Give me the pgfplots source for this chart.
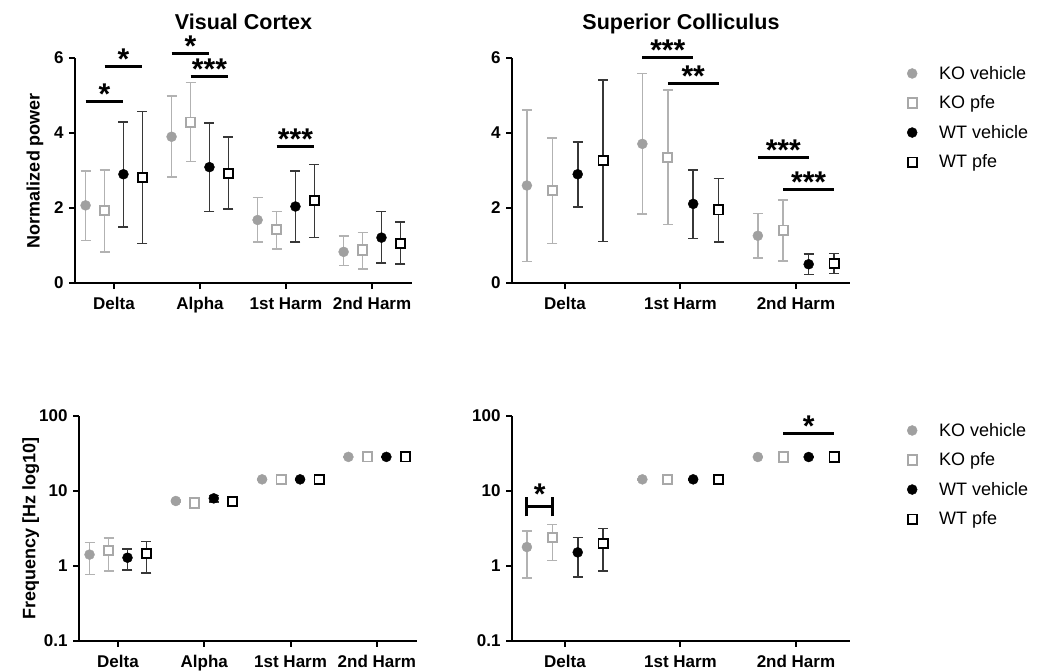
\documentclass[border=0pt]{standalone}
\usepackage{fontspec}
\setmainfont{Liberation Sans}
\usepackage{pgfplots}
\pgfplotsset{compat=1.18}
\usepackage{pgfplotstable}

\definecolor{kofill}{RGB}{160,160,160}
\definecolor{koline}{RGB}{168,168,168}
\definecolor{koerr}{RGB}{178,178,178}
\definecolor{wterr}{RGB}{55,55,55}

% ---------- Visual cortex, normalized power ----------
\pgfplotstableread{
x y ep em
-0.33 2.07 0.92 0.94
0.67 3.90 1.09 1.08
1.67 1.68 0.60 0.59
2.67 0.83 0.42 0.36
}\vcpkov
\pgfplotstableread{
x y ep em
-0.11 1.93 1.09 1.11
0.89 4.29 1.06 1.05
1.89 1.42 0.49 0.51
2.89 0.88 0.47 0.51
}\vcpkop
\pgfplotstableread{
x y ep em
0.11 2.90 1.40 1.40
1.11 3.09 1.18 1.18
2.11 2.04 0.95 0.95
3.11 1.21 0.70 0.68
}\vcpwtv
\pgfplotstableread{
x y ep em
0.33 2.81 1.76 1.76
1.33 2.92 0.97 0.95
2.33 2.20 0.96 0.99
3.33 1.05 0.57 0.55
}\vcpwtp
% ---------- Superior colliculus, normalized power ----------
\pgfplotstableread{
x y ep em
-0.33 2.60 2.02 2.03
0.67 3.71 1.88 1.87
1.67 1.26 0.59 0.60
}\scpkov
\pgfplotstableread{
x y ep em
-0.11 2.46 1.41 1.41
0.89 3.35 1.79 1.79
1.89 1.41 0.81 0.82
}\scpkop
\pgfplotstableread{
x y ep em
0.11 2.90 0.86 0.87
1.11 2.11 0.91 0.92
2.11 0.50 0.27 0.27
}\scpwtv
\pgfplotstableread{
x y ep em
0.33 3.26 2.16 2.15
1.33 1.95 0.84 0.85
2.33 0.52 0.27 0.27
}\scpwtp
% ---------- Visual cortex, frequency ----------
\pgfplotstableread{
x y ep em
-0.33 1.42 0.65 0.65
0.67 7.36 0.20 0.20
1.67 14.3 0.20 0.20
2.67 28.5 0.30 0.30
}\vcfkov
\pgfplotstableread{
x y ep em
-0.11 1.62 0.74 0.76
0.89 6.92 0.50 0.50
1.89 14.3 0.70 0.70
2.89 28.5 1.40 1.40
}\vcfkop
\pgfplotstableread{
x y ep em
0.11 1.29 0.40 0.40
1.11 7.98 0.77 0.78
2.11 14.3 0.30 0.30
3.11 28.5 0.30 0.30
}\vcfwtv
\pgfplotstableread{
x y ep em
0.33 1.47 0.64 0.66
1.33 7.20 0.85 0.96
2.33 14.3 0.70 0.70
3.33 28.5 1.40 1.40
}\vcfwtp
% ---------- Superior colliculus, frequency ----------
\pgfplotstableread{
x y ep em
-0.33 1.79 1.14 1.10
0.67 14.3 0.20 0.20
1.67 28.4 0.20 0.20
}\scfkov
\pgfplotstableread{
x y ep em
-0.11 2.39 1.20 1.21
0.89 14.3 0.70 0.70
1.89 28.4 1.40 1.40
}\scfkop
\pgfplotstableread{
x y ep em
0.11 1.52 0.87 0.81
1.11 14.3 0.30 0.30
2.11 28.4 0.30 0.30
}\scfwtv
\pgfplotstableread{
x y ep em
0.33 2.01 1.14 1.15
1.33 14.3 0.70 0.70
2.33 28.4 1.40 1.40
}\scfwtp

\tikzset{sig/.style={line width=3pt},
  startxt/.style={anchor=base,inner sep=0pt,yshift=-3pt,font=\fontsize{30}{30}\selectfont\bfseries}}

\pgfplotsset{
  panel/.style={
    scale only axis,
    axis lines=left,
    axis line style={line width=2.2pt,-},
    tick style={line width=2pt,black},
    major tick length=6pt,
    tick align=outside,
    clip=false,
    xtick={0,1,2,3},
    ticklabel style={font=\fontsize{17}{20}\selectfont\bfseries},
    xticklabel style={yshift=-5pt},
    yticklabel style={xshift=-2pt},
    ylabel style={font=\fontsize{18}{21}\selectfont\bfseries},
    title style={font=\fontsize{21.5}{25}\selectfont\bfseries, at={(axis description cs:0.5,1)}, anchor=base, yshift=22pt},
    legend style={draw=none, fill=none, font=\fontsize{18}{21}\selectfont, cells={anchor=west}, row sep=11pt, inner sep=0pt},
  },
  legimg/.style={legend image code/.code={\path[draw=none,fill=none] (0pt,-3pt) rectangle (33pt,3pt);\draw[##1] plot coordinates {(8pt,0pt)};}},
  kov/.style={only marks, legimg, mark=*, mark size=5pt, color=kofill,
    error bars/.cd, y dir=both, y explicit,
    error bar style={koerr,line width=1.6pt},
    error mark options={rotate=90,koerr,mark size=5pt,line width=1.6pt}},
  kop/.style={only marks, legimg, mark=square*, mark size=4.6pt, color=koline,
    mark options={fill=white,draw=koline,line width=1.9pt},
    error bars/.cd, y dir=both, y explicit,
    error bar style={koerr,line width=1.6pt},
    error mark options={rotate=90,koerr,mark size=5pt,line width=1.6pt}},
  wtv/.style={only marks, legimg, mark=*, mark size=5pt, color=black,
    error bars/.cd, y dir=both, y explicit,
    error bar style={wterr,line width=1.6pt},
    error mark options={rotate=90,wterr,mark size=5pt,line width=1.6pt}},
  wtp/.style={only marks, legimg, mark=square*, mark size=4.6pt, color=black,
    mark options={fill=white,draw=black,line width=1.9pt},
    error bars/.cd, y dir=both, y explicit,
    error bar style={wterr,line width=1.6pt},
    error mark options={rotate=90,wterr,mark size=5pt,line width=1.6pt}},
}
\newcommand{\stars}[3]{% x, y, text
  \draw[sig] (axis cs:#1-0.22,#2) -- (axis cs:#1+0.22,#2);
  \node[startxt] at (axis cs:#1,#2) {#3};}

\begin{document}
\begin{tikzpicture}
\useasboundingbox (0,0) rectangle (1042pt,-671pt);

% ===== Top left: Visual Cortex power =====
\begin{axis}[panel, at={(75pt,-283pt)}, anchor=south west,
  width=337pt, height=225pt,
  xmin=-0.453, xmax=3.465, ymin=0, ymax=6,
  xticklabels={Delta,Alpha,1st Harm,2nd Harm},
  ytick={0,2,4,6}, yticklabels={0,2,4,6},
  title={Visual Cortex},
  ylabel={Normalized power},
  ylabel style={at={(axis description cs:-0.119,0.5)}, anchor=center}]
\addplot[kov] table[x=x,y=y,y error plus=ep,y error minus=em]{\vcpkov};
\addplot[kop] table[x=x,y=y,y error plus=ep,y error minus=em]{\vcpkop};
\addplot[wtv] table[x=x,y=y,y error plus=ep,y error minus=em]{\vcpwtv};
\addplot[wtp] table[x=x,y=y,y error plus=ep,y error minus=em]{\vcpwtp};
\stars{-0.11}{4.85}{*}
\stars{0.11}{5.78}{*}
\stars{0.89}{6.13}{*}
\stars{1.11}{5.51}{***}
\stars{2.11}{3.63}{***}
\end{axis}

% ===== Top right: Superior Colliculus power =====
\begin{axis}[panel, at={(512pt,-283pt)}, anchor=south west,
  width=338pt, height=225pt,
  xmin=-0.459, xmax=2.468, ymin=0, ymax=6,
  xtick={0,1,2}, xticklabels={Delta,1st Harm,2nd Harm},
  ytick={0,2,4,6}, yticklabels={0,2,4,6},
  title={Superior Colliculus},
  legend style={at={(axis description cs:1,1)}, anchor=north west, xshift=54pt, yshift=-6pt}]
\addplot[kov] table[x=x,y=y,y error plus=ep,y error minus=em]{\scpkov};
\addlegendentry{KO vehicle}
\addplot[kop] table[x=x,y=y,y error plus=ep,y error minus=em]{\scpkop};
\addlegendentry{KO pfe}
\addplot[wtv] table[x=x,y=y,y error plus=ep,y error minus=em]{\scpwtv};
\addlegendentry{WT vehicle}
\addplot[wtp] table[x=x,y=y,y error plus=ep,y error minus=em]{\scpwtp};
\addlegendentry{WT pfe}
\stars{0.89}{6.0}{***}
\stars{1.11}{5.32}{**}
\stars{1.89}{3.34}{***}
\stars{2.11}{2.48}{***}
\end{axis}

% ===== Bottom left: Visual Cortex frequency =====
\begin{axis}[panel, at={(79pt,-641pt)}, anchor=south west,
  width=338pt, height=225pt, ymode=log, log basis y=10,
  xmin=-0.452, xmax=3.465, ymin=0.1, ymax=100,
  xticklabels={Delta,Alpha,1st Harm,2nd Harm},
  ytick={0.1,1,10,100}, yticklabels={0.1,1,10,100}, minor ytick={},
  ylabel={Frequency [Hz log10]},
  ylabel style={at={(axis description cs:-0.143,0.5)}, anchor=center}]
\addplot[kov] table[x=x,y=y,y error plus=ep,y error minus=em]{\vcfkov};
\addplot[kop] table[x=x,y=y,y error plus=ep,y error minus=em]{\vcfkop};
\addplot[wtv] table[x=x,y=y,y error plus=ep,y error minus=em]{\vcfwtv};
\addplot[wtp] table[x=x,y=y,y error plus=ep,y error minus=em]{\vcfwtp};
\end{axis}

% ===== Bottom right: Superior Colliculus frequency =====
\begin{axis}[panel, at={(512pt,-641pt)}, anchor=south west,
  width=338pt, height=225pt, ymode=log, log basis y=10,
  xmin=-0.459, xmax=2.468, ymin=0.1, ymax=100,
  xtick={0,1,2}, xticklabels={Delta,1st Harm,2nd Harm},
  ytick={0.1,1,10,100}, yticklabels={0.1,1,10,100}, minor ytick={},
  legend style={at={(axis description cs:1,1)}, anchor=north west, xshift=54pt, yshift=-5pt}]
\addplot[kov] table[x=x,y=y,y error plus=ep,y error minus=em]{\scfkov};
\addlegendentry{KO vehicle}
\addplot[kop] table[x=x,y=y,y error plus=ep,y error minus=em]{\scfkop};
\addlegendentry{KO pfe}
\addplot[wtv] table[x=x,y=y,y error plus=ep,y error minus=em]{\scfwtv};
\addlegendentry{WT vehicle}
\addplot[wtp] table[x=x,y=y,y error plus=ep,y error minus=em]{\scfwtp};
\addlegendentry{WT pfe}
\draw[sig] (axis cs:-0.33,4.6) -- (axis cs:-0.33,8.2);
\draw[sig] (axis cs:-0.11,4.6) -- (axis cs:-0.11,8.2);
\draw[sig] (axis cs:-0.33,6.25) -- (axis cs:-0.11,6.25);
\node[startxt] at (axis cs:-0.22,7.3) {*};
\stars{2.11}{58.8}{*}
\end{axis}
\end{tikzpicture}
\end{document}
